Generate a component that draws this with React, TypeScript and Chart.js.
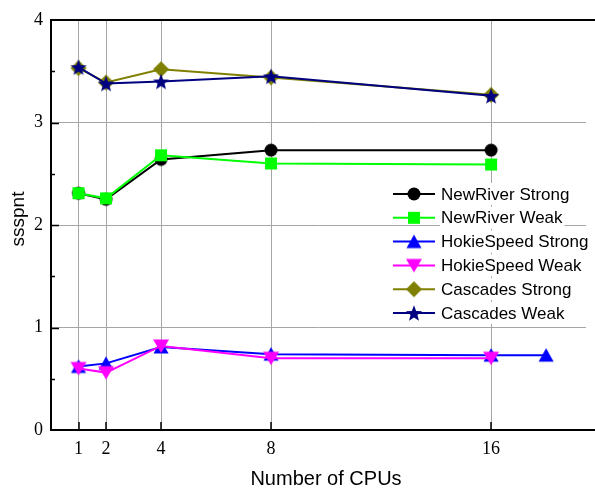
import { useEffect, useRef } from "react";
import { Chart, registerables } from "chart.js";

Chart.register(...registerables);

// CPU counts on the x axis
const cpuCounts = [1, 2, 4, 8, 16];
const hokieStrongCpus = [1, 2, 4, 8, 16, 18];
const xTickValues = [1, 2, 4, 8, 16];
const yTickValues = [0, 1, 2, 3, 4];

// ssspnt per series
const newRiverStrong = [2.31, 2.25, 2.64, 2.73, 2.73];
const newRiverWeak = [2.31, 2.26, 2.68, 2.6, 2.59];
const hokieSpeedStrong = [0.62, 0.65, 0.81, 0.74, 0.73, 0.73];
const hokieSpeedWeak = [0.6, 0.56, 0.82, 0.7, 0.7];
const cascadesStrong = [3.53, 3.39, 3.52, 3.44, 3.27];
const cascadesWeak = [3.54, 3.38, 3.4, 3.45, 3.26];

const seriesNames = [
  "NewRiver Strong",
  "NewRiver Weak",
  "HokieSpeed Strong",
  "HokieSpeed Weak",
  "Cascades Strong",
  "Cascades Weak",
];

type MarkerKind = "circle" | "square" | "triUp" | "triDown" | "diamond" | "star";

function makeMarker(kind: MarkerKind, color: string): HTMLCanvasElement {
  const c = document.createElement("canvas");
  c.width = 20;
  c.height = 20;
  const g = c.getContext("2d")!;
  g.translate(10, 10);
  g.fillStyle = color;
  g.beginPath();
  if (kind === "circle") {
    g.arc(0, 0, 6.5, 0, Math.PI * 2);
  } else if (kind === "square") {
    g.rect(-6, -6, 12, 12);
  } else if (kind === "triUp") {
    g.moveTo(0, -7);
    g.lineTo(7.5, 6.5);
    g.lineTo(-7.5, 6.5);
    g.closePath();
  } else if (kind === "triDown") {
    g.moveTo(0, 7);
    g.lineTo(8, -6.5);
    g.lineTo(-8, -6.5);
    g.closePath();
  } else if (kind === "diamond") {
    g.moveTo(0, -8);
    g.lineTo(8, 0);
    g.lineTo(0, 8);
    g.lineTo(-8, 0);
    g.closePath();
  } else {
    const outer = 8.5;
    const inner = 3.6;
    for (let i = 0; i < 10; i++) {
      const r = i % 2 === 0 ? outer : inner;
      const a = -Math.PI / 2 + (i * Math.PI) / 5;
      const px = r * Math.cos(a);
      const py = r * Math.sin(a) + 0.8;
      if (i === 0) g.moveTo(px, py);
      else g.lineTo(px, py);
    }
    g.closePath();
  }
  g.fill();
  return c;
}

const GRID = "#a6a6a6";

export default function App() {
  const ref = useRef<HTMLCanvasElement | null>(null);

  useEffect(() => {
    document.body.style.margin = "0";
    const canvas = ref.current!;

    const colors = ["#000000", "#00ff00", "#0000ff", "#ff00ff", "#808000", "#000080"];
    const kinds: MarkerKind[] = ["circle", "square", "triUp", "triDown", "diamond", "star"];
    const markers = kinds.map((k, i) => makeMarker(k, colors[i]));
    const xs = [cpuCounts, cpuCounts, hokieStrongCpus, cpuCounts, cpuCounts, cpuCounts];
    const ys = [newRiverStrong, newRiverWeak, hokieSpeedStrong, hokieSpeedWeak, cascadesStrong, cascadesWeak];

    const datasets = seriesNames.map((name, i) => ({
      label: name,
      data: xs[i].map((x, j) => ({ x, y: ys[i][j] })),
      borderColor: colors[i],
      backgroundColor: colors[i],
      borderWidth: 2,
      tension: 0,
      fill: false,
      pointStyle: markers[i] as any,
      pointRadius: 7,
      order: seriesNames.length - i,
    }));

    const frame = {
      id: "frame",
      afterDraw(chart: any) {
        const g = chart.ctx as CanvasRenderingContext2D;
        const { left, top, bottom } = chart.chartArea;
        const xs = chart.scales.x;
        const ysc = chart.scales.y;
        g.save();
        g.strokeStyle = "#000";
        g.lineWidth = 2;
        g.beginPath();
        g.moveTo(left, top);
        g.lineTo(chart.width, top);
        g.moveTo(left, top - 1);
        g.lineTo(left, bottom + 1);
        g.moveTo(left, bottom);
        g.lineTo(chart.width, bottom);
        g.stroke();

        // inward tick marks
        g.lineWidth = 1.5;
        g.beginPath();
        for (let v = 0.5; v < 4; v += 0.5) {
          const py = Math.round(ysc.getPixelForValue(v)) + 0.5;
          const len = Number.isInteger(v) ? 8 : 4;
          g.moveTo(left, py);
          g.lineTo(left + len, py);
        }
        for (const v of xTickValues) {
          const px = Math.round(xs.getPixelForValue(v));
          g.moveTo(px, bottom);
          g.lineTo(px, bottom - 8);
        }
        g.stroke();

        // axis titles
        g.fillStyle = "#000";
        g.font = '20px "Liberation Sans", Arial, sans-serif';
        g.textAlign = "center";
        g.textBaseline = "middle";
        g.fillText("Number of CPUs", 326, 479);
        g.save();
        g.translate(19, 219);
        g.rotate(-Math.PI / 2);
        g.font = '19px "Liberation Sans", Arial, sans-serif';
        g.fillText("ssspnt", 0, 0);
        g.restore();

        // legend
        g.font = '17px "Liberation Sans", Arial, sans-serif';
        g.textAlign = "left";
        seriesNames.forEach((name, i) => {
          const ry = 194 + i * 23.8;
          const w = g.measureText(name).width;
          g.fillStyle = "#fff";
          g.fillRect(440, ry - 11, w + 3, 22);
          g.strokeStyle = colors[i];
          g.lineWidth = 2;
          g.beginPath();
          g.moveTo(393, ry);
          g.lineTo(435, ry);
          g.stroke();
          g.drawImage(markers[i], 414 - 10, ry - 10);
          g.fillStyle = "#000";
          g.fillText(name, 441, ry + 1);
        });
        g.restore();
      },
    };

    const chart = new Chart(canvas, {
      type: "line",
      data: { datasets: datasets as any },
      options: {
        animation: false,
        responsive: false,
        layout: { padding: { top: 20, right: 0, left: 0, bottom: 0 } },
        plugins: { legend: { display: false }, tooltip: { enabled: false } },
        scales: {
          x: {
            type: "linear",
            min: 0,
            max: 19.45,
            border: { display: false },
            grid: { color: GRID, lineWidth: 1, drawTicks: false },
            ticks: {
              color: "#000",
              padding: 8,
              font: { family: '"Liberation Serif", "Times New Roman", serif', size: 18 },
            },
            afterBuildTicks: (s: any) => {
              s.ticks = xTickValues.map((v) => ({ value: v }));
            },
            afterFit: (s: any) => {
              s.height = 59;
            },
          },
          y: {
            type: "linear",
            min: 0,
            max: 4,
            border: { display: false },
            grid: {
              drawTicks: false,
              lineWidth: 1,
              color: (c: any) => (c.tick && c.tick.value > 0 && c.tick.value < 4 ? GRID : "rgba(0,0,0,0)"),
            },
            ticks: {
              color: "#000",
              padding: 8,
              font: { family: '"Liberation Serif", "Times New Roman", serif', size: 18 },
            },
            afterBuildTicks: (s: any) => {
              s.ticks = yTickValues.map((v) => ({ value: v }));
            },
            afterFit: (s: any) => {
              s.width = 51;
            },
          },
        },
      },
      plugins: [frame],
    });

    return () => chart.destroy();
  }, []);

  return (
    <div style={{ width: 595, height: 489, background: "#fff" }}>
      <canvas ref={ref} width={595} height={489} style={{ width: 595, height: 489, display: "block" }} />
    </div>
  );
}
